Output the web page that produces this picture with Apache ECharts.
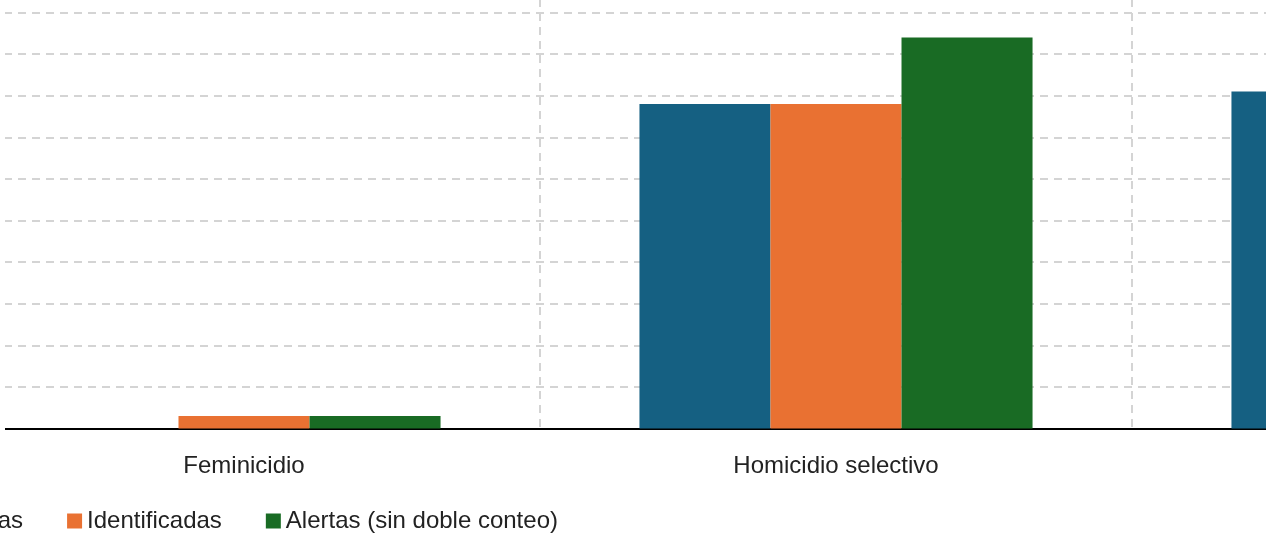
<!DOCTYPE html>
<html>
<head>
<meta charset="utf-8">
<script src="https://cdn.jsdelivr.net/npm/echarts@6/dist/echarts.min.js"></script>
<style>
html,body{margin:0;padding:0;background:#fff;}
#c{width:1266px;height:534px;}
</style>
</head>
<body>
<div id="c"></div>
<script>
const categories = ["Feminicidio", "Homicidio selectivo", "Otros"];
const seriesNames = ["Reportadas", "Identificadas", "Alertas (sin doble conteo)"];
const reportadas = [0, 78, 81];
const identificadas = [3, 78, null];
const alertas = [3, 94, null];
const colors = ["#156082", "#E97132", "#196B24"];

const FONT = "Liberation Sans";
const chart = echarts.init(document.getElementById('c'), null, {renderer: 'canvas'});
const dataSets = [reportadas, identificadas, alertas];
chart.setOption({
  animation: false,
  textStyle: {fontFamily: FONT},
  grid: {left: -52, width: 1776, top: -29, bottom: 105.5, containLabel: false, outerBoundsMode: 'none'},
  legend: {
    left: -126, top: 504, itemWidth: 15, itemHeight: 15, itemGap: 44,
    icon: 'rect',
    textStyle: {fontFamily: FONT, fontSize: 24, color: '#222'},
    data: seriesNames
  },
  xAxis: {
    type: 'category', data: categories,
    axisLine: {show: true, lineStyle: {color: '#000', width: 2}},
    axisTick: {show: false},
    axisLabel: {fontFamily: FONT, fontSize: 24, color: '#222', margin: 26},
    splitLine: {show: true, lineStyle: {color: '#d4d4d4', width: 2, type: [8, 6]}}
  },
  yAxis: {
    type: 'value', min: 0, max: 110, interval: 10,
    axisLine: {show: false}, axisTick: {show: false}, axisLabel: {show: false},
    splitLine: {show: true, lineStyle: {color: '#d4d4d4', width: 2, type: [8, 6]}}
  },
  series: seriesNames.map((n, i) => ({
    name: n, type: 'bar', data: dataSets[i],
    barGap: '0%', barCategoryGap: '33.6%',
    itemStyle: {color: colors[i]}
  })),
  graphic: [{
    type: 'rect', left: 0, top: 0, z: 100,
    shape: {width: 5, height: 436},
    style: {fill: '#fff'}
  }]
});
</script>
</body>
</html>
